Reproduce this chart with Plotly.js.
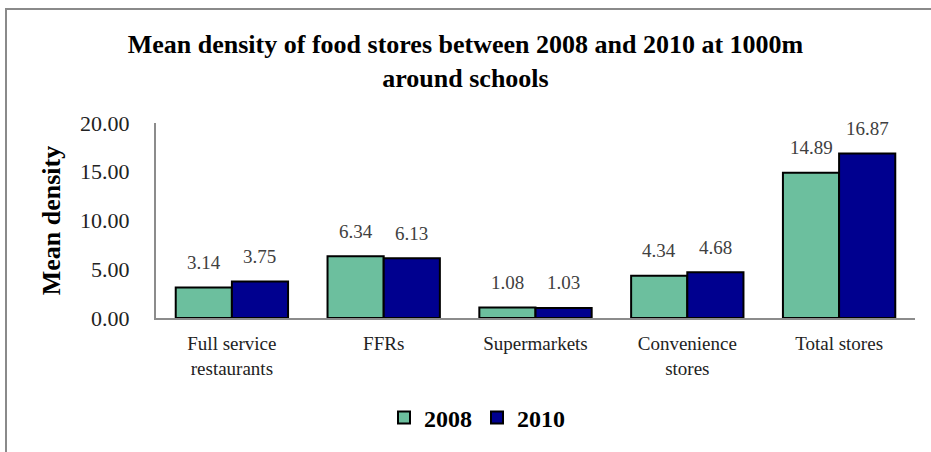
<!DOCTYPE html>
<html>
<head>
<meta charset="utf-8">
<script src="https://cdn.plot.ly/plotly-3.0.1.min.js"></script>
<style>
html,body{margin:0;padding:0;background:#fff;}
#wrap{position:relative;width:931px;height:452px;overflow:hidden;}
#chart{position:absolute;left:0;top:0;width:931px;height:452px;}
#frame{position:absolute;left:5px;top:8px;width:1000px;height:1000px;border-left:2px solid #8a8a8a;border-top:2px solid #8a8a8a;pointer-events:none;}
</style>
</head>
<body>
<div id="wrap"><div id="chart"></div><div id="frame"></div></div>
<script>
var categories = ["Full service<br>restaurants", "FFRs", "Supermarkets", "Convenience<br>stores", "Total stores"];
var values2008 = [3.14, 6.34, 1.08, 4.34, 14.89];
var values2010 = [3.75, 6.13, 1.03, 4.68, 16.87];
var yTicks = [0, 5, 10, 15, 20];
var yTickLabels = ["0.00", "5.00", "10.00", "15.00", "20.00"];

var serif = "Liberation Serif, Times New Roman, serif";
var green = "#6cbf9e";
var navy = "#00008f";

var traces = [
  {type: "bar", name: "2008", x: categories, y: values2008,
   marker: {color: green, line: {color: "#000", width: 2}}, hoverinfo: "none"},
  {type: "bar", name: "2010", x: categories, y: values2010,
   marker: {color: navy, line: {color: "#000", width: 2}}, hoverinfo: "none"}
];

var annotations = [];
function addLabels(vals, shift) {
  vals.forEach(function (v, i) {
    annotations.push({x: categories[i], y: v, xref: "x", yref: "y",
      text: v.toFixed(2), showarrow: false, xshift: shift, yshift: 25,
      yanchor: "middle", font: {family: serif, size: 19, color: "#404040"}});
  });
}
addLabels(values2008, -28);
addLabels(values2010, 28);

var layout = {
  width: 931, height: 452,
  margin: {l: 156, r: 16, t: 123, b: 134},
  paper_bgcolor: "#fff", plot_bgcolor: "#fff",
  title: {text: "<b>Mean density of food stores between 2008 and 2010 at 1000m<br>around schools</b>",
    font: {family: serif, size: 26, color: "#000"},
    x: 0.5, xref: "container", xanchor: "center",
    y: 1 - 53 / 452, yref: "container", yanchor: "top"},
  barmode: "group", bargap: 0.26, bargroupgap: 0,
  xaxis: {showgrid: false, zeroline: false, showline: true, linecolor: "#8c8c8c", linewidth: 2,
    ticks: "", ticklabelstandoff: 7,
    tickfont: {family: serif, size: 19, color: "#222"}},
  yaxis: {range: [0, 20], tickvals: yTicks, ticktext: yTickLabels,
    showgrid: false, zeroline: false, showline: true, linecolor: "#8c8c8c", linewidth: 2,
    ticks: "", ticklabelstandoff: 20,
    tickfont: {family: serif, size: 22, color: "#222"},
    title: {text: "<b>Mean density</b>", font: {family: serif, size: 26, color: "#000"}, standoff: 12}},
  showlegend: true,
  legend: {orientation: "h", xref: "container", yref: "container",
    x: 477 / 931, xanchor: "center", y: 1 - 418 / 452, yanchor: "middle",
    font: {family: serif, size: 24, color: "#000", weight: "bold"}, itemwidth: 30, traceorder: "normal"},
  annotations: annotations
};

Plotly.newPlot("chart", traces, layout, {displayModeBar: false, staticPlot: true});
</script>
</body>
</html>
